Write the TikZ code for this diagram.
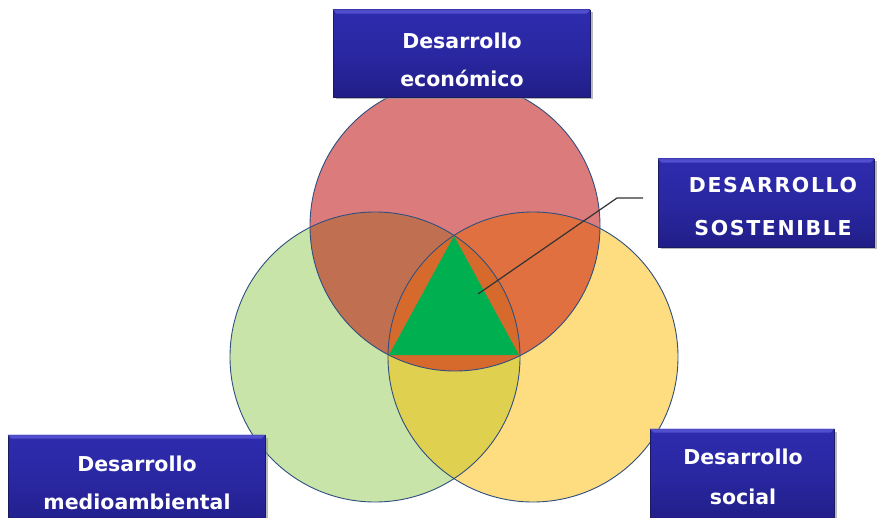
\documentclass[tikz,border=0pt]{standalone}
\usepackage{fontspec}
\setmainfont{DejaVu Sans}
\usetikzlibrary{shadows}
\definecolor{cRed}{HTML}{DC7B7B}
\definecolor{cGreen}{HTML}{C8E4A8}
\definecolor{cYellow}{HTML}{FDDD80}
\definecolor{cRG}{HTML}{C07050}
\definecolor{cRY}{HTML}{E07040}
\definecolor{cGY}{HTML}{E0D050}
\definecolor{cRGY}{HTML}{D66A2C}
\definecolor{cTri}{HTML}{00B050}
\definecolor{cEdge}{HTML}{2F4F80}
\definecolor{boxTop}{HTML}{2E2CAE}
\definecolor{boxMid}{HTML}{2A27A2}
\definecolor{boxBot}{HTML}{211E88}
\definecolor{boxLine}{HTML}{1A1A60}
\definecolor{boxHi}{HTML}{5A58D8}
\tikzset{
  bluebox/.style={rectangle, draw=boxLine, line width=0.6pt,
    top color=boxTop, bottom color=boxBot, middle color=boxMid,
    drop shadow={shadow xshift=2.5pt, shadow yshift=-2.5pt, fill=black!45, opacity=0.6},
    inner sep=0pt},
  bevel/.style={fill=boxHi, opacity=0.8},
  boxtext/.style={text=white, align=center, font=\fontsize{20.5}{38}\selectfont\bfseries},
  captext/.style={text=white, align=center, font=\fontsize{20.5}{43}\selectfont\bfseries\addfontfeature{LetterSpace=8}},
  ring/.style={draw=cEdge, line width=0.9pt},
  leader/.style={draw=black!80, line width=1.2pt}
}
\begin{document}
\begin{tikzpicture}[x=1pt,y=-1pt]
\useasboundingbox (0,0) rectangle (877,518);
\clip (0,0) rectangle (877,518);
\def\R{145pt}
\coordinate (cr) at (455,226);
\coordinate (cg) at (375,357);
\coordinate (cy) at (533,357);
% base circles
\fill[cGreen] (cg) circle[radius=\R];
\fill[cYellow] (cy) circle[radius=\R];
\fill[cRed] (cr) circle[radius=\R];
% pairwise overlaps
\begin{scope}\clip (cr) circle[radius=\R]; \fill[cRG] (cg) circle[radius=\R];\end{scope}
\begin{scope}\clip (cr) circle[radius=\R]; \fill[cRY] (cy) circle[radius=\R];\end{scope}
\begin{scope}\clip (cg) circle[radius=\R]; \fill[cGY] (cy) circle[radius=\R];\end{scope}
\begin{scope}\clip (cr) circle[radius=\R]; \clip (cg) circle[radius=\R]; \fill[cRGY] (cy) circle[radius=\R];\end{scope}
% outlines
\draw[ring] (cg) circle[radius=\R];
\draw[ring] (cy) circle[radius=\R];
\draw[ring] (cr) circle[radius=\R];
% triangle
\coordinate (ta) at (454,236);
\coordinate (tl) at (389,355);
\coordinate (tr) at (519,355);
\fill[cTri] (ta) -- (tl) -- (tr) -- cycle;
% boxes
\node[bluebox, minimum width=257pt, minimum height=87pt] (eco) at (461.5,53.5) {};
\fill[bevel] (eco.north west) -- (eco.north east) -- ([xshift=-4pt,yshift=-4pt]eco.north east) -- ([xshift=4pt,yshift=-4pt]eco.north west) -- cycle;
\node[boxtext] (ecoT) at (462,60) {Desarrollo\\económico};
\node[bluebox, minimum width=216pt, minimum height=88pt] (sos) at (766,203) {};
\fill[bevel] (sos.north west) -- (sos.north east) -- ([xshift=-4pt,yshift=-4pt]sos.north east) -- ([xshift=4pt,yshift=-4pt]sos.north west) -- cycle;
\node[captext] (sosT) at (773,207) {DESARROLLO\\SOSTENIBLE};
\node[bluebox, minimum width=257pt, minimum height=93pt] (med) at (136.5,481.5) {};
\fill[bevel] (med.north west) -- (med.north east) -- ([xshift=-4pt,yshift=-4pt]med.north east) -- ([xshift=4pt,yshift=-4pt]med.north west) -- cycle;
\node[boxtext] (medT) at (137,483) {Desarrollo\\medioambiental};
\node[bluebox, minimum width=184pt, minimum height=92pt] (soc) at (742,475) {};
\fill[bevel] (soc.north west) -- (soc.north east) -- ([xshift=-4pt,yshift=-4pt]soc.north east) -- ([xshift=4pt,yshift=-4pt]soc.north west) -- cycle;
\node[boxtext, font=\fontsize{20.5}{40}\selectfont\bfseries] (socT) at (743,477) {Desarrollo\\social};
% leader line
\coordinate (tip) at (478,294);
\coordinate (elbow) at (617,198);
\coordinate (lend) at (643,198);
\draw[leader] (tip) -- (elbow) -- (lend);
\end{tikzpicture}
\end{document}
